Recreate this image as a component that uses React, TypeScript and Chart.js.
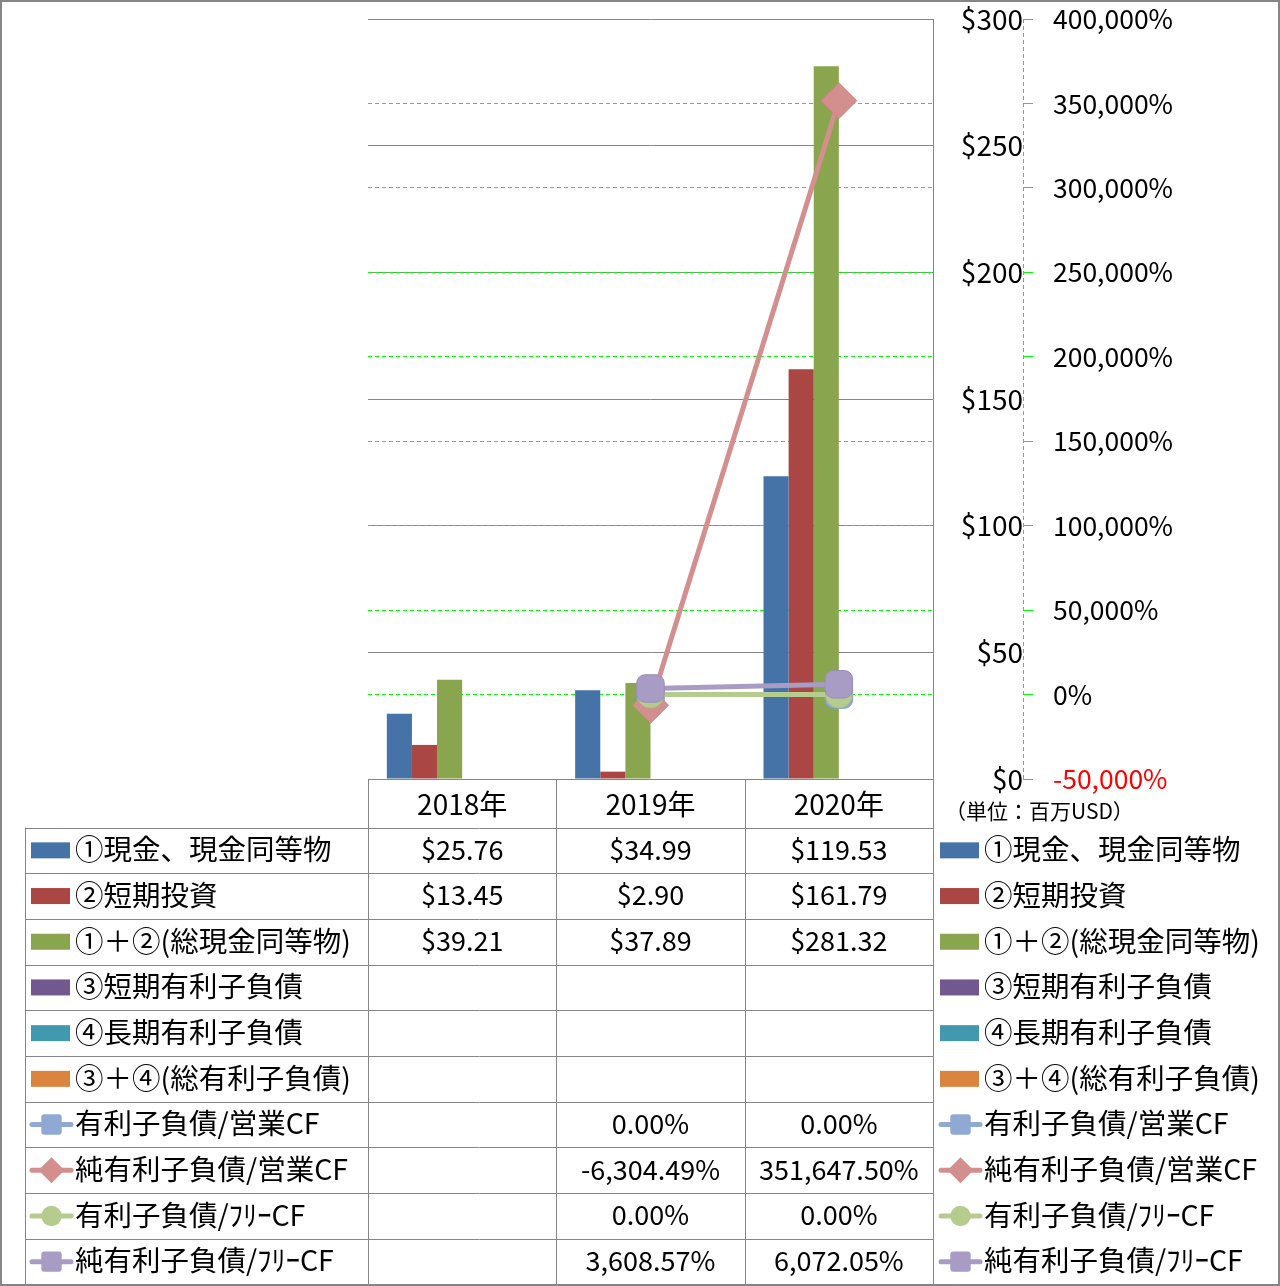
import React, { useEffect, useRef } from 'react';
import { Chart, registerables } from 'chart.js';

Chart.register(...registerables);

// ---------- data ----------
const categories = ['2018年', '2019年', '2020年'];
const cashEquivalents = [25.76, 34.99, 119.53];
const shortTermInvestments = [13.45, 2.9, 161.79];
const totalCash = [39.21, 37.89, 281.32];
const shortTermDebt: (number | null)[] = [null, null, null];
const longTermDebt: (number | null)[] = [null, null, null];
const totalDebt: (number | null)[] = [null, null, null];
const debtToOperatingCF = [null, 0, 0];
const netDebtToOperatingCF = [null, -6304.49, 351647.5];
const debtToFreeCF = [null, 0, 0];
const netDebtToFreeCF = [null, 3608.57, 6072.05];

const barLabels = ['①現金、現金同等物', '②短期投資', '①＋②(総現金同等物)', '③短期有利子負債', '④長期有利子負債', '③＋④(総有利子負債)'];
const lineLabels = ['有利子負債/営業CF', '純有利子負債/営業CF', '有利子負債/ﾌﾘｰCF', '純有利子負債/ﾌﾘｰCF'];
const unitLabel = '（単位：百万USD）';

// ---------- styles ----------
const W = 1280;
const H = 1286;
const FONT = '"Noto Sans CJK JP", "Noto Sans", sans-serif';
const GRID = '#868686';
const LIME = '#00FF00';
const barColors = ['#4572A7', '#AA4643', '#89A54E', '#71588F', '#4198AF', '#DB843D'];
const lineColors = ['#8FA9D3', '#D38F8E', '#B5CC8E', '#A89CC4'];
const lineBorders = ['#7F99C3', '#C88483', '#A7BF80', '#9A8DB8'];
const lineStyles = ['rectRounded', 'rectRot', 'circle', 'rectRounded'];
const lineRadius = [16, 18, 13.5, 16];

const fmtMoney = (v: number | null) => (v == null ? '' : '$' + v.toFixed(2));
const fmtPct = (v: number | null) =>
  v == null ? '' : v.toLocaleString('en-US', { minimumFractionDigits: 2, maximumFractionDigits: 2 }) + '%';

function drawKeyMarker(ctx: CanvasRenderingContext2D, style: string, x: number, y: number, s: number) {
  ctx.beginPath();
  if (style === 'rectRot') {
    ctx.moveTo(x, y - s);
    ctx.lineTo(x + s, y);
    ctx.lineTo(x, y + s);
    ctx.lineTo(x - s, y);
    ctx.closePath();
  } else if (style === 'circle') {
    ctx.arc(x, y, s * 0.85, 0, Math.PI * 2);
  } else {
    const h = s * 0.85;
    const r = 3;
    ctx.moveTo(x - h + r, y - h);
    ctx.lineTo(x + h - r, y - h);
    ctx.quadraticCurveTo(x + h, y - h, x + h, y - h + r);
    ctx.lineTo(x + h, y + h - r);
    ctx.quadraticCurveTo(x + h, y + h, x + h - r, y + h);
    ctx.lineTo(x - h + r, y + h);
    ctx.quadraticCurveTo(x - h, y + h, x - h, y + h - r);
    ctx.lineTo(x - h, y - h + r);
    ctx.quadraticCurveTo(x - h, y - h, x - h + r, y - h);
    ctx.closePath();
  }
  ctx.fill();
}

const tablePlugin = {
  id: 'dataTable',
  beforeDraw(chart: any) {
    const ctx = chart.ctx;
    ctx.save();
    ctx.fillStyle = '#FFFFFF';
    ctx.fillRect(0, 0, chart.width, chart.height);
    ctx.restore();
  },
  afterDraw(chart: any) {
    const ctx: CanvasRenderingContext2D = chart.ctx;
    const xs = chart.scales.x;
    const y2 = chart.scales.y2;
    const area = chart.chartArea;
    const n = categories.length;
    const step = xs.getPixelForValue(1) - xs.getPixelForValue(0);
    const edges: number[] = [];
    for (let i = 0; i <= n; i++) edges.push(Math.round(xs.getPixelForValue(0) - step / 2 + i * step) + 0.5);
    const top = Math.round(area.bottom) + 0.5;
    const headerBottom = top + 48;
    const bottom = H - 1.5;
    const rows = barLabels.length + lineLabels.length;
    const rowH = (bottom - headerBottom) / rows;
    const leftX = 25.5;

    ctx.save();
    // secondary axis dashed line
    ctx.strokeStyle = LIME;
    ctx.lineWidth = 1;
    ctx.setLineDash([4, 3]);
    ctx.beginPath();
    const ax = Math.round(y2.left) + 0.5;
    ctx.moveTo(ax, area.top);
    ctx.lineTo(ax, area.bottom);
    ctx.stroke();
    ctx.setLineDash([]);

    // table grid
    ctx.strokeStyle = GRID;
    ctx.beginPath();
    edges.forEach((e) => {
      ctx.moveTo(e, top);
      ctx.lineTo(e, bottom);
    });
    ctx.moveTo(edges[0], top);
    ctx.lineTo(edges[n], top);
    ctx.moveTo(leftX, headerBottom);
    ctx.lineTo(leftX, bottom);
    for (let r = 0; r <= rows; r++) {
      const y = Math.round(headerBottom + r * rowH) + 0.5;
      ctx.moveTo(leftX, y);
      ctx.lineTo(edges[n], y);
    }
    ctx.stroke();

    // rows
    const datasets = chart.data.datasets;
    ctx.textBaseline = 'middle';
    ctx.fillStyle = '#000';
    for (let i = 0; i < rows; i++) {
      const ds = datasets[i];
      const yc = headerBottom + (i + 0.5) * rowH - 1;
      const isBar = i < barLabels.length;
      const label = ds.label as string;
      [31, 940].forEach((kx) => {
        if (isBar) {
          ctx.fillStyle = barColors[i];
          ctx.fillRect(kx, yc - 7, 39, 16);
        } else {
          const li = i - barLabels.length;
          ctx.strokeStyle = lineColors[li];
          ctx.lineWidth = 5;
          ctx.lineCap = 'round';
          ctx.beginPath();
          ctx.moveTo(kx + 1, yc + 1);
          ctx.lineTo(kx + 40, yc + 1);
          ctx.stroke();
          ctx.fillStyle = lineColors[li];
          drawKeyMarker(ctx, lineStyles[li], kx + 20.5, yc + 1, li === 1 ? 13 : 12);
        }
        ctx.fillStyle = '#000';
        ctx.font = `28.5px ${FONT}`;
        ctx.textAlign = 'left';
        ctx.fillText(label, kx + 44, yc);
      });
      ctx.font = `27px ${FONT}`;
      ctx.textAlign = 'center';
      (ds.data as (number | null)[]).forEach((v, j) => {
        const txt = isBar ? fmtMoney(v) : fmtPct(v);
        if (txt) ctx.fillText(txt, xs.getPixelForValue(j), yc);
      });
    }

    // unit label
    ctx.font = `21px ${FONT}`;
    ctx.textAlign = 'left';
    ctx.fillText(unitLabel, 945, 811);

    // outer border
    ctx.strokeStyle = GRID;
    ctx.lineWidth = 2;
    ctx.strokeRect(1, 1, W - 2, H - 2);
    ctx.restore();
  },
};

export default function App() {
  const ref = useRef<HTMLCanvasElement | null>(null);

  useEffect(() => {
    document.body.style.margin = '0';
    const canvas = ref.current;
    if (!canvas) return;
    const barData = [cashEquivalents, shortTermInvestments, totalCash, shortTermDebt, longTermDebt, totalDebt];
    const lineData = [debtToOperatingCF, netDebtToOperatingCF, debtToFreeCF, netDebtToFreeCF];
    const lineOrder = [4, 3, 2, 1];
    const datasets: any[] = [
      ...barData.map((d, i) => ({
        type: 'bar',
        label: barLabels[i],
        data: d,
        backgroundColor: barColors[i],
        borderWidth: 0,
        yAxisID: 'y',
        order: 10,
        categoryPercentage: 0.8,
        barPercentage: 1.0,
      })),
      ...lineData.map((d, i) => ({
        type: 'line',
        label: lineLabels[i],
        data: d,
        borderColor: lineColors[i],
        backgroundColor: lineColors[i],
        borderWidth: 5,
        pointStyle: lineStyles[i],
        pointRadius: lineRadius[i],
        pointBackgroundColor: lineColors[i],
        pointBorderColor: lineBorders[i],
        pointBorderWidth: 1,
        yAxisID: 'y2',
        order: lineOrder[i],
        spanGaps: false,
      })),
    ];

    const chart = new Chart(canvas, {
      type: 'bar',
      data: { labels: categories, datasets },
      options: {
        responsive: false,
        animation: false,
        devicePixelRatio: 1,
        layout: { padding: { left: 368, top: 19, right: 0, bottom: H - 827 } },
        plugins: { legend: { display: false }, tooltip: { enabled: false } },
        scales: {
          x: {
            position: 'bottom',
            grid: { display: false },
            border: { display: true, color: GRID },
            ticks: { color: '#000', font: { family: FONT, size: 28 }, padding: 1, maxRotation: 0 },
            afterFit: (s: any) => {
              s.height = 48;
              s.paddingLeft = 0;
              s.paddingRight = 0;
            },
          },
          y: {
            position: 'right',
            min: 0,
            max: 300,
            weight: 0,
            ticks: {
              stepSize: 50,
              color: '#000',
              font: { family: FONT, size: 28 },
              crossAlign: 'far',
              padding: 0,
              callback: (v: any) => '$' + v,
            },
            grid: { color: GRID, drawTicks: false },
            border: { display: true, color: GRID },
            afterFit: (s: any) => {
              s.width = 90;
              s.paddingTop = 0;
              s.paddingBottom = 0;
            },
          },
          y2: {
            position: 'right',
            min: -50000,
            max: 400000,
            weight: 1,
            ticks: {
              stepSize: 50000,
              font: { family: FONT, size: 26.5 },
              padding: 20,
              color: (c: any) => (c.tick && c.tick.value < 0 ? '#FF0000' : '#000000'),
              callback: (v: any) => Number(v).toLocaleString('en-US') + '%',
            },
            grid: {
              drawOnChartArea: true,
              color: (c: any) => (c.tick && (c.tick.value === 400000 || c.tick.value === -50000) ? 'rgba(0,0,0,0)' : LIME),
              tickColor: LIME,
              tickLength: 10,
            },
            border: { display: false, dash: [4, 3] },
            afterFit: (s: any) => {
              s.width = W - 933 - 90;
              s.paddingTop = 0;
              s.paddingBottom = 0;
            },
          },
        },
      } as any,
      plugins: [tablePlugin],
    });
    return () => chart.destroy();
  }, []);

  return (
    <div style={{ position: 'absolute', left: 0, top: 0, width: W, height: H }}>
      <canvas ref={ref} width={W} height={H} style={{ display: 'block', width: W, height: H }} />
    </div>
  );
}
